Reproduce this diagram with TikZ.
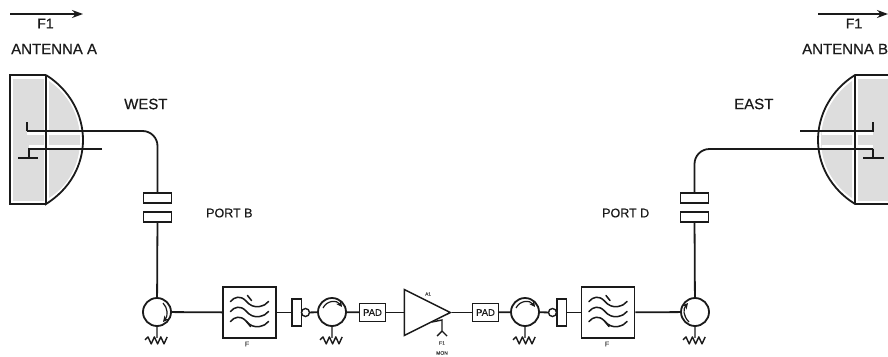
\documentclass[tikz,border=0pt]{standalone}
\usepackage{fontspec}
\setmainfont{Liberation Sans}
\newfontfamily\labfont[FakeBold=0.6]{Liberation Sans}
\usetikzlibrary{arrows.meta,shapes.geometric}
\definecolor{dishgray}{HTML}{DDDDDD}
\definecolor{inkc}{HTML}{1A1A1A}
\tikzset{
  wire/.style={draw=inkc,line width=1.8pt},
  thin wire/.style={draw=inkc,line width=1.4pt},
  lab/.style={font=\labfont\fontsize{15}{15}\selectfont,text=inkc,inner sep=0pt},
  portlab/.style={font=\labfont\fontsize{12.5}{13}\selectfont,text=inkc,inner sep=0pt},
  tiny lab/.style={font=\labfont\fontsize{7}{7}\selectfont,text=inkc!80,inner sep=0pt},
  couplerbox/.style={draw=inkc,line width=1.4pt,fill=white,minimum width=28pt,minimum height=10pt,inner sep=0pt},
  circ/.style={circle,draw=inkc,line width=1.8pt,fill=white,minimum size=28pt,inner sep=0pt},
  filterbox/.style={draw=inkc,line width=1.5pt,fill=white,minimum width=53pt,minimum height=51pt,inner sep=0pt},
  padbox/.style={draw=inkc,line width=1.4pt,fill=white,minimum width=26pt,minimum height=18pt,inner sep=0pt,font=\labfont\fontsize{9.5}{10}\selectfont,text=inkc},
  isoblock/.style={draw=inkc,line width=1.5pt,fill=white,minimum width=9.5pt,minimum height=27pt,inner sep=0pt},
  isodot/.style={circle,draw=inkc,line width=1.4pt,fill=white,minimum size=8pt,inner sep=0pt},
  halo/.style={draw=white,line width=4.5pt},
  circarrow/.style={draw=inkc,line width=1.2pt,-{Stealth[length=6pt,width=6pt]}},
  res/.style={draw=inkc,line width=1.4pt,line join=round},
  wave/.style={draw=inkc,line width=1.5pt,line cap=round},
}
\newcommand{\filterwaves}[1]{%
  \foreach \dy in {-10,0,10}{
    \draw[wave,shift={(#1)},yshift=\dy pt]
      (-19,-1) .. controls (-15,-6) and (-9,-7) .. (-4,-2)
      .. controls (0,3) and (5,5) .. (10,4) .. controls (14,3) and (17,2) .. (19,-1);
  }
  \draw[wave,shift={(#1)}] (-2,-17) -- (2,-12) (-3,9) -- (1,14);
}
\newcommand{\resistor}[1]{%
  \draw[res] (#1.south) -- ++(0,11)
    ++(-12,2) -- ++(3,-3) -- ++(3.2,7) -- ++(3.2,-7) -- ++(3.2,7) -- ++(3.2,-7) -- ++(3.2,7) -- ++(3.2,-7);
}
\begin{document}
\begin{tikzpicture}[x=1pt,y=-1pt]
\useasboundingbox (0,0) rectangle (888,356);
\path[clip] (0,0) rectangle (888,356);
% ---------- antenna A
\fill[dishgray] (13,79) rectangle (44,201);
\fill[dishgray] (49,81) .. controls (68,94) and (80,115) .. (80,140) .. controls (80,165) and (68,186) .. (49,198) -- cycle;
\draw[halo] (27,133) -- (80,133) (29,147) -- (80,147);
\fill[dishgray] (29,136) rectangle (44,144) (49,136) rectangle (79,144);
\draw[wire] (46,204) -- (10,204) -- (10,75) -- (46,75);
\draw[wire] (46,75) .. controls (70,90) and (83,115) .. (83,140) .. controls (83,165) and (70,189) .. (46,204) -- (46,75);
% ---------- antenna B
\fill[dishgray] (858,79) rectangle (888,201);
\fill[dishgray] (852,81) .. controls (834,94) and (821,115) .. (821,140) .. controls (821,165) and (834,186) .. (852,198) -- cycle;
\draw[halo] (822,133) -- (873,133) (822,147) -- (873,147);
\fill[dishgray] (822,136) rectangle (852,144) (858,136) rectangle (872,144);
\draw[wire] (888,75) -- (855,75) .. controls (831,90) and (818,115) .. (818,140) .. controls (818,165) and (831,189) .. (855,204) -- (888,204);
\draw[wire] (855,75) -- (855,204);
% ---------- chain nodes
\node[couplerbox] (pbt) at (157.5,198) {};
\node[couplerbox] (pbb) at (157.5,217) {};
\node[couplerbox] (pdt) at (694.5,198) {};
\node[couplerbox] (pdb) at (694.5,217) {};
\node[circ] (c1) at (157,312) {};
\node[filterbox] (f1) at (249.5,312.5) {};
\node[isoblock] (i1) at (296.5,312.5) {};
\node[isodot] (d1) at (305.5,312.5) {};
\node[circ] (c2) at (332,312) {};
\node[padbox] (p1) at (372.5,312.5) {PAD};
\node[draw=inkc,line width=1.5pt,fill=white,isosceles triangle,isosceles triangle apex angle=53,minimum height=46pt,inner sep=0pt,anchor=apex] (amp) at (452,312.5) {};
\node[padbox] (p2) at (485.5,312.5) {PAD};
\node[circ] (c3) at (525,312) {};
\node[isodot] (d2) at (552.5,312.5) {};
\node[isoblock] (i2) at (561.5,312.5) {};
\node[filterbox] (f2) at (608,312.5) {};
\node[circ] (c4) at (695,312) {};
% ---------- connectors
\draw[wire] (c1) -- (f1);
\draw[wire] (f1) -- (i1);
\draw[wire] (d1) -- (c2);
\draw[wire] (c2) -- (p1);
\draw[wire] (p1) -- (amp);
\draw[wire] (amp.apex) -- (p2);
\draw[wire] (p2) -- (c3);
\draw[wire] (c3) -- (d2);
\draw[wire] (i2) -- (f2);
\draw[wire] (f2) -- (c4);
\draw[wire] (pbb) -- (c1);
\draw[wire] (pdb) -- (c4);
% feeds A
\coordinate (fa1) at (27,122);
\coordinate (fa2) at (27,131);
\coordinate (fa3) at (157.5,131);
\draw[wire,rounded corners=15pt] (fa2) -- (fa3) -- (pbt.north);
\draw[thin wire] (fa1) -- (fa2);
\coordinate (ga1) at (29,149);
\coordinate (ga2) at (102,149);
\coordinate (ga3) at (29,158);
\coordinate (ga4) at (18,158);
\coordinate (ga5) at (38,158);
\draw[thin wire] (ga2) -- (ga1) -- (ga3) (ga4) -- (ga5);
% feeds B
\coordinate (fb1) at (873,122);
\coordinate (fb2) at (873,131);
\coordinate (fb3) at (800,131);
\draw[thin wire] (fb1) -- (fb2) -- (fb3);
\coordinate (gb1) at (873,149);
\coordinate (gb2) at (694.5,149);
\coordinate (gb3) at (873,158);
\coordinate (gb4) at (863,158);
\coordinate (gb5) at (884,158);
\draw[wire,rounded corners=15pt] (gb1) -- (gb2) -- (pdt.north);
\draw[thin wire] (gb1) -- (gb3) (gb4) -- (gb5);
% ---------- circulator arrows
\draw[circarrow] (163,303) .. controls (168,308) and (168,316) .. (163,322);
\draw[circarrow] (323,308) .. controls (327,300) and (337,300) .. (342,307);
\draw[circarrow] (516,308) .. controls (520,300) and (530,300) .. (535,307);
\draw[circarrow] (689,322) .. controls (683,316) and (683,309) .. (688,303);
% ---------- terminations
\resistor{c1}
\resistor{c2}
\resistor{c3}
\resistor{c4}
% ---------- filters
\filterwaves{f1.center}
\filterwaves{f2.center}
% ---------- amp monitor
\coordinate (m0) at (432,322);
\coordinate (m1) at (442,320);
\coordinate (m2) at (442,331);
\coordinate (m3) at (437,336);
\coordinate (m4) at (447,336);
\draw[thin wire] (m0) -- (m1) -- (m2) (m3) -- (m2) -- (m4);
% ---------- text
\coordinate (ta1) at (10,14);
\coordinate (ta2) at (83,14);
\coordinate (tb1) at (818,14);
\coordinate (tb2) at (888,14);
\draw[thin wire,-{Stealth[length=11pt,width=8pt]}] (ta1) -- (ta2);
\draw[thin wire,-{Stealth[length=11pt,width=8pt]}] (tb1) -- (tb2);
\node[lab,font=\labfont\fontsize{14}{14}\selectfont] (t1) at (45.5,23.5) {F1};
\node[lab,font=\labfont\fontsize{14}{14}\selectfont] (t2) at (854,23.5) {F1};
\node[lab,anchor=west] (t3) at (11,49) {ANTENNA A};
\node[lab,anchor=west] (t4) at (802,49) {ANTENNA B};
\node[lab,anchor=west] (t5) at (124,104) {WEST};
\node[lab,anchor=west] (t6) at (734,104) {EAST};
\node[portlab,anchor=west] (t7) at (206,213) {PORT B};
\node[portlab,anchor=west] (t8) at (602,213) {PORT D};
\node[tiny lab] (t9) at (247,344) {F};
\node[tiny lab] (t10) at (607,344) {F};
\node[tiny lab,font=\labfont\fontsize{4.5}{5}\selectfont] (t11) at (428,294) {A1};
\node[tiny lab,font=\labfont\fontsize{5}{5}\selectfont] (t12) at (442,343) {F1};
\node[tiny lab,font=\labfont\fontsize{5}{5}\selectfont] (t13) at (442,353) {MON};
\end{tikzpicture}
\end{document}
